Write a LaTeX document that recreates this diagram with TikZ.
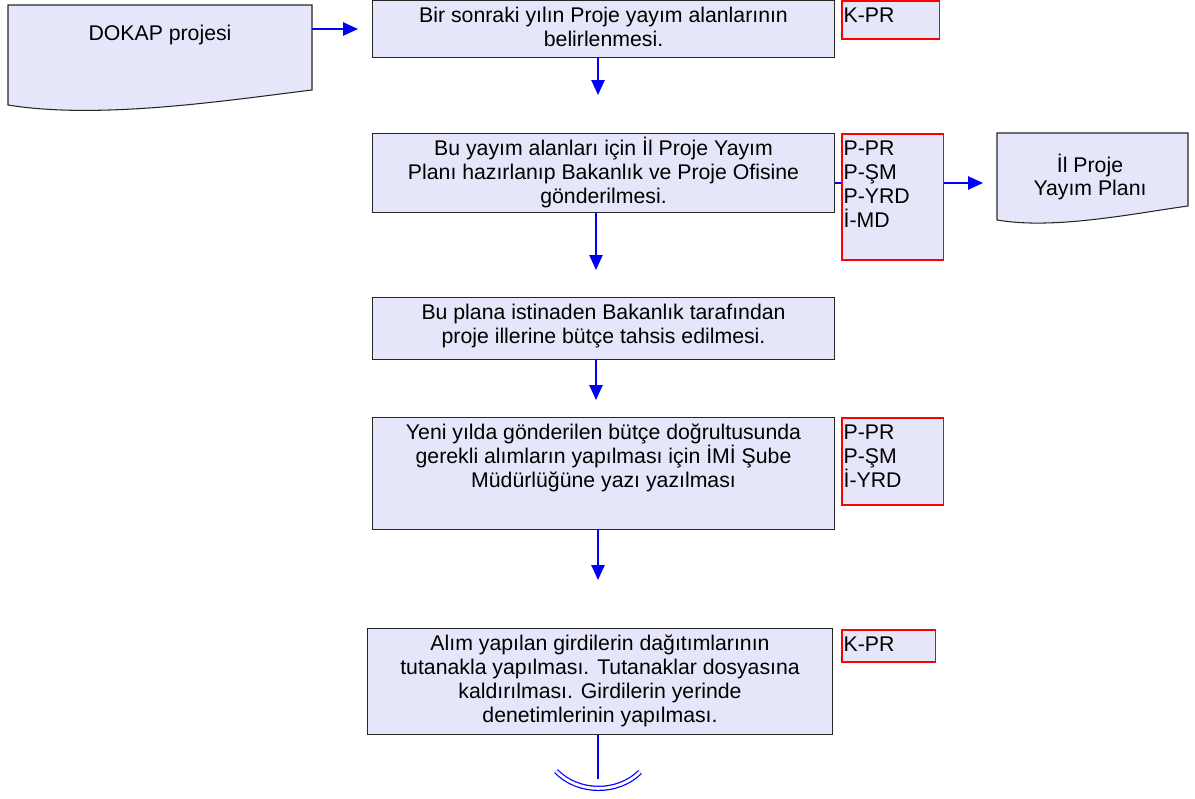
\documentclass[tikz,border=0pt]{standalone}
\usepackage{fontspec}
\setmainfont{Liberation Sans}
\usetikzlibrary{arrows.meta}
\definecolor{lavanta}{RGB}{230,230,250}
\newlength\pxu \setlength\pxu{0.02cm}
\newcommand{\kutuyazi}[4]{\parbox[c][#2\pxu][t]{#1\pxu}{#3\rule{0pt}{12.5pt}#4}}
\begin{document}
\begin{tikzpicture}[x=0.02cm,y=-0.02cm,>={Triangle[length=8.5pt,width=7.5pt]},
  font=\fontsize{12.1pt}{13.6pt}\selectfont,
  adim/.style={draw=black!85,fill=lavanta,anchor=north west,inner sep=0pt,line width=0.6pt},
  sorumlu/.style={adim,draw=red,line width=1pt,inner xsep=1pt},
  belge/.style={draw=black!85,fill=lavanta,line width=0.6pt},
  ok/.style={->,blue,line width=1.1pt}]
\useasboundingbox (0,0) rectangle (1195,798);
% belgeler
\draw[belge](8,5)--(312,5)--(312,90)..controls(230,100)and(100,120)..(8,105)--cycle;
\draw[belge](997,133)--(1188,133)--(1188,206)..controls(1136,213)and(1055,230)..(997,220)--cycle;
\node(dokap) at (160,35){DOKAP projesi};
\node[align=center](plan) at (1090,177){İl Proje\\Yayım Planı};
% adimlar
\node[adim](b1) at (372,0){\kutuyazi{462}{57}{\centering}{Bir sonraki yılın Proje yayım alanlarının\\belirlenmesi.}};
\node[adim](b2) at (372,133){\kutuyazi{462}{79}{\centering}{Bu yayım alanları için İl Proje Yayım\\Planı hazırlanıp Bakanlık ve Proje Ofisine\\gönderilmesi.}};
\node[adim](b3) at (372,297){\kutuyazi{462}{62}{\centering}{Bu plana istinaden Bakanlık tarafından\\proje illerine bütçe tahsis edilmesi.}};
\node[adim](b4) at (372,417){\kutuyazi{462}{112}{\centering}{Yeni yılda gönderilen bütçe doğrultusunda\\gerekli alımların yapılması için İMİ Şube\\Müdürlüğüne yazı yazılması}};
\node[adim](b5) at (367,628){\kutuyazi{465}{106}{\centering}{Alım yapılan girdilerin dağıtımlarının\\tutanakla yapılması. Tutanaklar dosyasına\\kaldırılması. Girdilerin yerinde\\denetimlerinin yapılması.}};
% oklar
\coordinate(d0) at (312,29);\coordinate(o0) at (358,29);
\coordinate(o1) at (598,95);\coordinate(o2) at (596,270);
\coordinate(o3) at (983,183);\coordinate(o4) at (596,400);\coordinate(o5) at (598,580);
\coordinate(o6) at (598,779);
\draw[ok](d0)--(o0);
\draw[ok](b1.south-|o1)--(o1);
\draw[ok](b2.south-|o2)--(o2);
\draw[ok](b2.east|-o3)--(o3);
\draw[ok](b3.south-|o4)--(o4);
\draw[ok](b4.south-|o5)--(o5);
\draw[blue,line width=1.1pt](b5.south-|o6)--(o6);
\draw[blue,double=white,line width=0.7pt,double distance=1.6pt](556,771)..controls(578,794)and(618,794)..(640,772);
% sorumlular
\node[sorumlu](r1) at (841,0){\kutuyazi{94}{38}{\raggedright}{K-PR}};
\node[sorumlu](r2) at (841,133){\kutuyazi{98}{126}{\raggedright}{P-PR\\P-ŞM\\P-YRD\\İ-MD}};
\node[sorumlu](r4) at (841,417){\kutuyazi{98}{87}{\raggedright}{P-PR\\P-ŞM\\İ-YRD}};
\node[sorumlu](r5) at (841,629){\kutuyazi{90}{32}{\raggedright}{K-PR}};
\end{tikzpicture}
\end{document}
